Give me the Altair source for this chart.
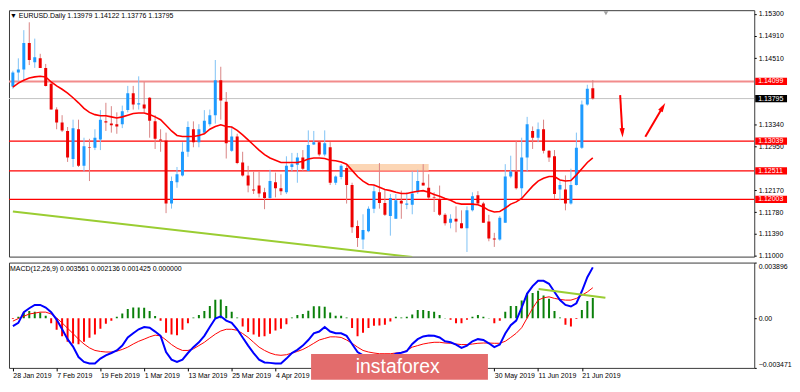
import math
import altair as alt
import numpy as np
import pandas as pd

# ---------------- data ----------------
bar_index = list(range(107))
open_ = [1.1401, 1.1426, 1.1431, 1.1478, 1.1444, 1.1451, 1.1434, 1.1406, 1.1360, 1.1337,
         1.1322, 1.1272, 1.1325, 1.1260, 1.1293, 1.1292, 1.1307, 1.1339, 1.1335, 1.1334,
         1.1334, 1.1359, 1.1389, 1.1369, 1.1369, 1.1381, 1.1339, 1.1307, 1.1305, 1.1193,
         1.1231, 1.1243, 1.1285, 1.1325, 1.1302, 1.1319, 1.1334, 1.1350, 1.1412, 1.1374,
         1.1287, 1.1312, 1.1266, 1.1243, 1.1218, 1.1225, 1.1213, 1.1203, 1.1231, 1.1220,
         1.1213, 1.1258, 1.1262, 1.1275, 1.1251, 1.1298, 1.1302, 1.1280, 1.1293, 1.1230,
         1.1240, 1.1256, 1.1226, 1.1153, 1.1129, 1.1144, 1.1184, 1.1213, 1.1194, 1.1171,
         1.1166, 1.1198, 1.1191, 1.1191, 1.1213, 1.1230, 1.1221, 1.1204, 1.1201, 1.1173,
         1.1159, 1.1166, 1.1158, 1.1149, 1.1181, 1.1208, 1.1193, 1.1161, 1.1131, 1.1129,
         1.1159, 1.1241, 1.1250, 1.1220, 1.1275, 1.1322, 1.1310, 1.1325, 1.1287, 1.1277,
         1.1218, 1.1218, 1.1193, 1.1226, 1.1292, 1.1369, 1.13979]
high = [1.1429, 1.1451, 1.1501, 1.1515, 1.1486, 1.1459, 1.1441, 1.1409, 1.1364, 1.1350,
        1.1329, 1.1342, 1.1342, 1.1310, 1.1308, 1.1325, 1.1359, 1.1372, 1.1366, 1.1355,
        1.1367, 1.1402, 1.1402, 1.1419, 1.1409, 1.1382, 1.1350, 1.1325, 1.1319, 1.1241,
        1.1258, 1.1302, 1.1339, 1.1339, 1.1334, 1.1359, 1.1360, 1.1448, 1.1436, 1.1391,
        1.1330, 1.1317, 1.1285, 1.1260, 1.1250, 1.1250, 1.1221, 1.1253, 1.1248, 1.1245,
        1.1277, 1.1283, 1.1283, 1.1288, 1.1323, 1.1322, 1.1303, 1.1323, 1.1302, 1.1243,
        1.1263, 1.1263, 1.1230, 1.1163, 1.1174, 1.1188, 1.1226, 1.1265, 1.1218, 1.1210,
        1.1210, 1.1216, 1.1213, 1.1250, 1.1253, 1.1263, 1.1245, 1.1213, 1.1225, 1.1176,
        1.1174, 1.1188, 1.1181, 1.1188, 1.1213, 1.1215, 1.1196, 1.1173, 1.1141, 1.1171,
        1.1263, 1.1278, 1.1304, 1.1310, 1.1347, 1.1330, 1.1337, 1.1342, 1.1288, 1.1288,
        1.1233, 1.1243, 1.1255, 1.1319, 1.1376, 1.1404, 1.14122]
low = [1.1397, 1.1411, 1.1411, 1.1439, 1.1434, 1.1434, 1.1401, 1.1360, 1.1325, 1.1320,
       1.1267, 1.1258, 1.1258, 1.1250, 1.1233, 1.1288, 1.1288, 1.1322, 1.1319, 1.1317,
       1.1327, 1.1355, 1.1360, 1.1360, 1.1355, 1.1310, 1.1290, 1.1285, 1.1176, 1.1184,
       1.1221, 1.1241, 1.1276, 1.1293, 1.1293, 1.1317, 1.1330, 1.1335, 1.1342, 1.1273,
       1.1285, 1.1263, 1.1241, 1.1213, 1.1210, 1.1204, 1.1183, 1.1201, 1.1204, 1.1208,
       1.1210, 1.1250, 1.1230, 1.1251, 1.1250, 1.1297, 1.1277, 1.1277, 1.1226, 1.1226,
       1.1236, 1.1193, 1.1141, 1.1116, 1.1112, 1.1142, 1.1176, 1.1184, 1.1171, 1.1136,
       1.1166, 1.1166, 1.1183, 1.1174, 1.1210, 1.1225, 1.1201, 1.1178, 1.1171, 1.1154,
       1.1149, 1.1142, 1.1149, 1.1107, 1.1179, 1.1191, 1.1159, 1.1126, 1.1116, 1.1127,
       1.1159, 1.1238, 1.1218, 1.1201, 1.1250, 1.1290, 1.1302, 1.1282, 1.1267, 1.1201,
       1.1199, 1.1181, 1.1191, 1.1225, 1.1290, 1.1367, 1.13776]
close = [1.1426, 1.1431, 1.1478, 1.1448, 1.1453, 1.1434, 1.1402, 1.1360, 1.1337, 1.1323,
         1.1275, 1.1327, 1.1260, 1.1295, 1.1292, 1.1310, 1.1342, 1.1337, 1.1332, 1.1330,
         1.1357, 1.1389, 1.1369, 1.1371, 1.1362, 1.1340, 1.1308, 1.1305, 1.1193, 1.1233,
         1.1245, 1.1285, 1.1329, 1.1302, 1.1325, 1.1340, 1.1350, 1.1412, 1.1376, 1.1300,
         1.1312, 1.1265, 1.1243, 1.1225, 1.1216, 1.1211, 1.1203, 1.1233, 1.1220, 1.1215,
         1.1260, 1.1263, 1.1275, 1.1255, 1.1297, 1.1302, 1.1280, 1.1300, 1.1230, 1.1241,
         1.1260, 1.1226, 1.1151, 1.1132, 1.1146, 1.1184, 1.1215, 1.1194, 1.1173, 1.1203,
         1.1199, 1.1193, 1.1193, 1.1211, 1.1233, 1.1225, 1.1204, 1.1203, 1.1173, 1.1158,
         1.1166, 1.1161, 1.1149, 1.1181, 1.1206, 1.1193, 1.1159, 1.1131, 1.1129, 1.1168,
         1.1241, 1.1250, 1.1220, 1.1275, 1.1334, 1.1310, 1.1325, 1.1287, 1.1275, 1.1210,
         1.1226, 1.1193, 1.1226, 1.1292, 1.1369, 1.1397, 1.13795]
moving_avg = [1.1400, 1.1407, 1.1412, 1.1416, 1.1418, 1.1419, 1.1418, 1.1409, 1.1402, 1.1396,
              1.1389, 1.1381, 1.1372, 1.1362, 1.1355, 1.1351, 1.1349, 1.1349, 1.1347, 1.1345,
              1.1347, 1.1350, 1.1353, 1.1354, 1.1354, 1.1351, 1.1347, 1.1342, 1.1332, 1.1322,
              1.1314, 1.1312, 1.1312, 1.1312, 1.1314, 1.1317, 1.1325, 1.1330, 1.1333, 1.1330,
              1.1329, 1.1323, 1.1315, 1.1306, 1.1297, 1.1288, 1.1280, 1.1274, 1.1270, 1.1266,
              1.1266, 1.1266, 1.1266, 1.1268, 1.1272, 1.1274, 1.1274, 1.1273, 1.1270, 1.1269,
              1.1267, 1.1263, 1.1252, 1.1241, 1.1233, 1.1227, 1.1226, 1.1222, 1.1218, 1.1216,
              1.1213, 1.1211, 1.1211, 1.1213, 1.1215, 1.1216, 1.1213, 1.1209, 1.1206, 1.1202,
              1.1199, 1.1194, 1.1192, 1.1192, 1.1192, 1.1191, 1.1187, 1.1181, 1.1178, 1.1179,
              1.1185, 1.1192, 1.1196, 1.1202, 1.1213, 1.1224, 1.1233, 1.1238, 1.1241, 1.1241,
              1.1235, 1.1233, 1.1234, 1.1244, 1.1255, 1.1266, 1.1274]
macd_line = [-0.00055, -0.00032, 0.00043, 0.00070, 0.00093, 0.00093, 0.00075, 0.00043, -0.00009, -0.00077,
             -0.00146, -0.00198, -0.00271, -0.00305, -0.00316, -0.00316, -0.00282, -0.00259, -0.00243, -0.00225,
             -0.00191, -0.00134, -0.00105, -0.00077, -0.00061, -0.00066, -0.00093, -0.00123, -0.00236, -0.00289,
             -0.00305, -0.00289, -0.00243, -0.00202, -0.00168, -0.00123, -0.00061, -0.00002, 0.00014, -0.00016,
             -0.00032, -0.00077, -0.00134, -0.00191, -0.00243, -0.00289, -0.00309, -0.00312, -0.00316, -0.00316,
             -0.00282, -0.00243, -0.00221, -0.00191, -0.00152, -0.00105, -0.00093, -0.00061, -0.00093, -0.00105,
             -0.00105, -0.00123, -0.00180, -0.00236, -0.00259, -0.00275, -0.00282, -0.00282, -0.00275, -0.00266,
             -0.00248, -0.00241, -0.00230, -0.00180, -0.00146, -0.00127, -0.00121, -0.00123, -0.00134, -0.00161,
             -0.00168, -0.00184, -0.00207, -0.00191, -0.00161, -0.00146, -0.00152, -0.00175, -0.00202, -0.00184,
             -0.00107, -0.00048, -0.00016, 0.00075, 0.00173, 0.00225, 0.00262, 0.00262, 0.00241, 0.00184,
             0.00127, 0.00093, 0.00082, 0.00105, 0.00189, 0.00287, 0.003561]
signal_line = [-0.00020, -0.00002, 0.00014, 0.00030, 0.00036, 0.00043, 0.00043, 0.00030, 0.00002, -0.00032,
               -0.00070, -0.00107, -0.00146, -0.00180, -0.00207, -0.00225, -0.00232, -0.00236, -0.00236, -0.00230,
               -0.00218, -0.00202, -0.00180, -0.00161, -0.00146, -0.00130, -0.00118, -0.00123, -0.00152, -0.00184,
               -0.00209, -0.00225, -0.00225, -0.00214, -0.00191, -0.00168, -0.00139, -0.00111, -0.00089, -0.00077,
               -0.00077, -0.00084, -0.00107, -0.00134, -0.00168, -0.00202, -0.00225, -0.00243, -0.00255, -0.00259,
               -0.00255, -0.00243, -0.00232, -0.00218, -0.00198, -0.00175, -0.00152, -0.00141, -0.00130, -0.00130,
               -0.00134, -0.00152, -0.00175, -0.00202, -0.00225, -0.00236, -0.00243, -0.00248, -0.00248, -0.00248,
               -0.00243, -0.00241, -0.00225, -0.00202, -0.00191, -0.00180, -0.00173, -0.00168, -0.00168, -0.00173,
               -0.00175, -0.00180, -0.00184, -0.00184, -0.00180, -0.00175, -0.00173, -0.00173, -0.00175, -0.00175,
               -0.00161, -0.00134, -0.00105, -0.00066, 0.00002, 0.00070, 0.00127, 0.00143, 0.00150, 0.00139,
               0.00132, 0.00127, 0.00127, 0.00139, 0.00161, 0.00184, 0.002136]
histogram = [-0.00005, 0.00011, 0.00041, 0.00050, 0.00045, 0.00041, 0.00018, -0.00034, -0.00080, -0.00125,
             -0.00164, -0.00177, -0.00182, -0.00164, -0.00136, -0.00114, -0.00073, -0.00039, -0.00018, 0.00011,
             0.00034, 0.00064, 0.00075, 0.00075, 0.00073, 0.00050, 0.00016, -0.00018, -0.00102, -0.00114,
             -0.00118, -0.00080, -0.00034, 0.00005, 0.00023, 0.00050, 0.00086, 0.00130, 0.00132, 0.00086,
             0.00045, 0.00005, -0.00057, -0.00096, -0.00114, -0.00130, -0.00125, -0.00109, -0.00086, -0.00073,
             -0.00041, 0.00005, 0.00023, 0.00030, 0.00052, 0.00084, 0.00084, 0.00080, 0.00041, 0.00018,
             0.00018, 0.00005, -0.00068, -0.00125, -0.00102, -0.00068, -0.00052, -0.00050, -0.00045, -0.00023,
             0.00011, 0.00005, 0.00011, 0.00027, 0.00057, 0.00057, 0.00050, 0.00045, 0.00023, 0.00002,
             -0.00011, -0.00034, -0.00034, -0.00011, 0.00011, 0.00023, 0.00011, 0.00002, -0.00034, -0.00018,
             0.00045, 0.00086, 0.00086, 0.00125, 0.00177, 0.00177, 0.00193, 0.00159, 0.00136, 0.00050,
             0.00005, -0.00045, -0.00057, -0.00005, 0.00057, 0.00121, 0.001425]

# visible date labels (the ones under the logo are hidden in the picture)
date_bars = [0, 8, 16, 24, 32, 40, 48, 88, 96, 104]
date_labels = ["28 Jan 2019", "7 Feb 2019", "19 Feb 2019", "1 Mar 2019", "13 Mar 2019",
               "25 Mar 2019", "4 Apr 2019", "30 May 2019", "11 Jun 2019", "21 Jun 2019"]

price_ticks = [1.11000, 1.11390, 1.11780, 1.12170, 1.12950, 1.13340,
               1.14510, 1.14910, 1.15300]
level_prices = [1.14099, 1.13039, 1.12511, 1.12003]
level_labels = ["1.14099", "1.13039", "1.12511", "1.12003"]
current_price = 1.13795
current_label = "1.13795"
macd_ticks = [-0.003471, 0.0, 0.003896]

zone_bars = [60.9, 76.0]
zone_prices = [1.12511, 1.12632]
trend_bars = [0.0, 73.0]
trend_prices = [1.1179, 1.1098]
macd_trend_bars = [96.1, 108.3]
macd_trend_vals = [0.00205, 0.00143]
arrow_down_bars = [111.0, 111.4]
arrow_down_prices = [1.13856, 1.13185]
arrow_up_bars = [115.6, 118.8]
arrow_up_prices = [1.13118, 1.13646]
shift_marker_bar = 108.4

title_text = "\u25bc EURUSD.Daily  1.13979 1.14122 1.13776 1.13795"
macd_text = "MACD(12,26,9) 0.003561 0.002136 0.001425 0.000000"

# ---------------- layout ----------------
W = 750
H_MAIN = 248
H_MACD = 106
X_DOM = [0.2, 134.6]
Y_DOM = [1.10988, 1.15365]
M_DOM = [-0.003471, 0.003896]
FONT = "Liberation Sans"
FS = 7

xscale = alt.Scale(domain=X_DOM, nice=False, zero=False)
yscale = alt.Scale(domain=Y_DOM, nice=False, zero=False)
mscale = alt.Scale(domain=M_DOM, nice=False, zero=False)

main_axis = alt.Axis(orient="right", values=price_ticks, format=".5f", grid=False, domain=False,
                     tickSize=2, tickColor="#000", labelFont=FONT, labelFontSize=FS,
                     labelColor="#000", labelPadding=2, labelOverlap=False)
label_js = ("{" + ",".join("'%d':'%s'" % (b, s) for b, s in zip(date_bars, date_labels))
            + "}[''+round(datum.value)]")
date_axis = alt.Axis(values=date_bars, labelExpr=label_js, labelAlign="left", labelFont=FONT,
                     labelFontSize=FS, labelColor="#000", labelPadding=1, tickSize=3,
                     tickColor="#000", domain=False, grid=False, labelOverlap=False,
                     labelBound=False)
macd_axis = alt.Axis(orient="right", values=macd_ticks, grid=False, domain=False, tickSize=2,
                     tickColor="#000", labelFont=FONT, labelFontSize=FS, labelColor="#000",
                     labelPadding=2, labelFlush=True, labelOverlap=False,
                     labelExpr="datum.value == 0 ? '0.00' : format(datum.value, '.6f')")


def XM(f):
    return alt.X(f, type="quantitative", scale=xscale, axis=None, title=None)


def YM(f):
    return alt.Y(f, type="quantitative", scale=yscale, axis=main_axis, title=None)


def XD(f):
    return alt.X(f, type="quantitative", scale=xscale, axis=date_axis, title=None)


def YD(f):
    return alt.Y(f, type="quantitative", scale=mscale, axis=macd_axis, title=None)


df = pd.DataFrame(dict(i=bar_index, o=open_, h=high, l=low, c=close, ma=moving_avg,
                       macd=macd_line, sig=signal_line, hist=histogram))
up = df["c"] >= df["o"]
df["body_col"] = np.where(up, "#1e9bff", "#ee0000")
df["wick_col"] = np.where(up, "#7fc2f5", "#d98484")
df["hist_col"] = np.where(df["hist"] >= 0, "#0a800a", "#ff0000")

# ---------------- main panel ----------------
lv = pd.DataFrame({"price": level_prices + [current_price],
                   "col": ["#f28c8c", "#ff0000", "#ff0000", "#ff0000", "#c4c4c4"],
                   "w": [2.0, 1.2, 1.2, 1.2, 1.0]})
levels = alt.Chart(lv).mark_rule(clip=True).encode(
    y=YM("price"), x=alt.value(0), x2=alt.value(W),
    color=alt.Color("col:N", scale=None), strokeWidth=alt.StrokeWidth("w:Q", scale=None))

zone_df = pd.DataFrame({"x0": [zone_bars[0]], "x1": [zone_bars[1]],
                        "p0": [zone_prices[0]], "p1": [zone_prices[1]]})
zone = alt.Chart(zone_df).mark_rect(color="#fbcfa8", opacity=0.85, clip=True).encode(
    x=XM("x0"), x2="x1", y=YM("p0"), y2="p1")

trend_df = pd.DataFrame({"i": trend_bars, "p": trend_prices})
trend = alt.Chart(trend_df).mark_line(color="#9acd32", strokeWidth=2, clip=True).encode(
    x=XM("i"), y=YM("p"))

wicks = alt.Chart(df).mark_rule(strokeWidth=1, clip=True).encode(
    x=XM("i"), y=YM("l"), y2="h", color=alt.Color("wick_col:N", scale=None))
bodies = alt.Chart(df).mark_bar(size=3, clip=True).encode(
    x=XM("i"), y=YM("o"), y2="c", color=alt.Color("body_col:N", scale=None))
ma_line = alt.Chart(df).mark_line(color="#ff0000", strokeWidth=1.6, clip=True).encode(
    x=XM("i"), y=YM("ma"))

arr_df = pd.DataFrame({"id": ["d", "d", "u", "u"],
                       "i": arrow_down_bars + arrow_up_bars,
                       "p": arrow_down_prices + arrow_up_prices})
shafts = alt.Chart(arr_df).mark_line(color="#ff0000", strokeWidth=2, clip=True).encode(
    x=XM("i"), y=YM("p"), detail="id:N")
ppx = W / (X_DOM[1] - X_DOM[0])
ppy = H_MAIN / (Y_DOM[1] - Y_DOM[0])


def head_angle(bx, py):
    dx = (bx[1] - bx[0]) * ppx
    dy = -(py[1] - py[0]) * ppy
    return math.degrees(math.atan2(dx, -dy)) % 360


heads_df = pd.DataFrame({"i": [arrow_down_bars[1], arrow_up_bars[1]],
                         "p": [arrow_down_prices[1], arrow_up_prices[1]],
                         "ang": [head_angle(arrow_down_bars, arrow_down_prices),
                                 head_angle(arrow_up_bars, arrow_up_prices)]})
heads = alt.Chart(heads_df).mark_point(shape="M0,-1L0.55,1L-0.55,1Z", filled=True, size=90,
                                       color="#ff0000", opacity=1, clip=True).encode(
    x=XM("i"), y=YM("p"), angle=alt.Angle("ang:Q", scale=None))

marker = alt.Chart(pd.DataFrame({"i": [shift_marker_bar]})).mark_point(
    shape="triangle-down", filled=True, size=22, color="#a0a0a0", opacity=1, clip=True).encode(
    x=XM("i"), y=alt.value(3))

title = alt.Chart(pd.DataFrame({"t": [title_text]})).mark_text(
    align="left", baseline="middle", font=FONT, fontSize=FS, color="#000").encode(
    x=alt.value(1), y=alt.value(6), text="t:N")

box_df = pd.DataFrame({"price": level_prices + [current_price],
                       "label": level_labels + [current_label],
                       "bg": ["#ff0000"] * 4 + ["#000000"]})
boxes = alt.Chart(box_df).transform_calculate(
    top="datum.price + 0.00064", bot="datum.price - 0.00064").mark_rect(clip=False).encode(
    x=alt.value(W + 1), x2=alt.value(W + 33), y=YM("top:Q"), y2="bot:Q",
    color=alt.Color("bg:N", scale=None))
box_text = alt.Chart(box_df).mark_text(align="left", baseline="middle", font=FONT,
                                       fontSize=FS, color="#ffffff", clip=False).encode(
    x=alt.value(W + 4), y=YM("price"), text="label:N")

main = alt.layer(levels, zone, trend, wicks, bodies, ma_line, shafts, heads, marker, title,
                 boxes, box_text).properties(width=W, height=H_MAIN)

# ---------------- MACD panel ----------------
hist_bars = alt.Chart(df).mark_bar(size=2, clip=True).encode(
    x=XD("i"), y=YD("hist"), y2=alt.datum(0), color=alt.Color("hist_col:N", scale=None))
sig = alt.Chart(df).mark_line(color="#ff0000", strokeWidth=1, clip=True).encode(
    x=XD("i"), y=YD("sig"))
mac = alt.Chart(df).mark_line(color="#0000ff", strokeWidth=2, clip=True).encode(
    x=XD("i"), y=YD("macd"))
mtrend = alt.Chart(pd.DataFrame({"i": macd_trend_bars, "v": macd_trend_vals})).mark_line(
    color="#9acd32", strokeWidth=2, clip=True).encode(x=XD("i"), y=YD("v"))
mtitle = alt.Chart(pd.DataFrame({"t": [macd_text]})).mark_text(
    align="left", baseline="middle", font=FONT, fontSize=FS, color="#000").encode(
    x=alt.value(1), y=alt.value(6), text="t:N")

logo_box = alt.Chart(pd.DataFrame({"a": [0]})).mark_rect(color="#e36c6c", clip=False).encode(
    x=alt.value(304), x2=alt.value(482), y=alt.value(92), y2=alt.value(118))
logo_text = alt.Chart(pd.DataFrame({"t": ["instaforex"]})).mark_text(
    align="left", baseline="alphabetic", font=FONT, fontSize=19.5, color="#ffffff",
    clip=False).encode(x=alt.value(349), y=alt.value(111), text="t:N")

macd = alt.layer(hist_bars, sig, mac, mtrend, mtitle, logo_box, logo_text).properties(
    width=W, height=H_MACD)

chart = alt.vconcat(main, macd, spacing=2).properties(
    padding=0, background="#ffffff").configure_view(stroke="#3a3a3a", strokeWidth=1)

chart.save("out.html", embed_options={"renderer": "svg", "actions": False})
